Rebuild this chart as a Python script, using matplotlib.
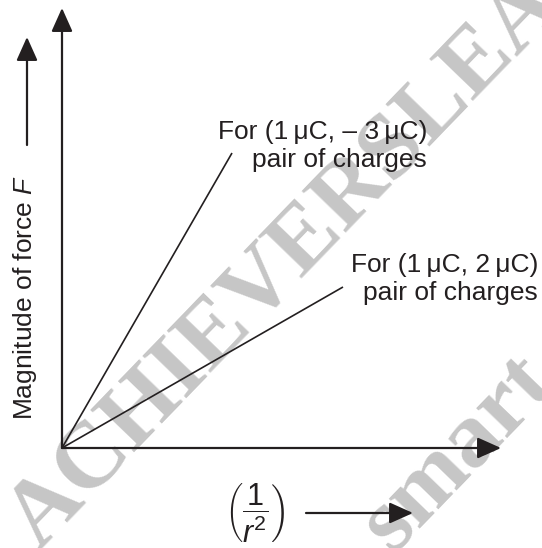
import numpy as np
import matplotlib
matplotlib.use("Agg")
from matplotlib import pyplot as plt

plt.rcParams['font.family'] = ['Liberation Sans', 'DejaVu Sans']
plt.rcParams['mathtext.fontset'] = 'custom'
plt.rcParams['mathtext.rm'] = 'Liberation Sans'
plt.rcParams['mathtext.it'] = 'Liberation Sans:italic'
plt.rcParams['mathtext.bf'] = 'Liberation Sans:bold'

# two straight lines F = k * (1/r^2) (arbitrary units)
x_end = [170, 281]
F_end = [295, 161]
pair_labels = ["For (1\u2009\u03bcC, \u2013 3\u2009\u03bcC)\npair of charges",
               "For (1\u2009\u03bcC, 2\u2009\u03bcC)\npair of charges"]
label_pos = [(365, 281), (476, 148)]   # right edge / baseline of last line

ink = '#231f20'
wm = '#c6c6c6'

fig = plt.figure(figsize=(5.42, 5.48), dpi=100)
ax = fig.add_axes([0, 0, 1, 1])
ax.set_xlim(-62, 480)
ax.set_ylim(-100, 448)
ax.axis('off')

# watermark
ax.text(-23, -103, "ACHIEVERSLEARNING", rotation=46, rotation_mode='anchor',
        ha='left', va='baseline', fontsize=68, family='Liberation Serif',
        fontweight='bold', color=wm, zorder=0)
ax.text(330, -106, "smart", rotation=46, rotation_mode='anchor',
        ha='left', va='baseline', fontsize=68, family='Liberation Serif',
        fontweight='bold', color=wm, zorder=0)

arrow = dict(arrowstyle='-|>,head_length=1.45,head_width=0.65', color=ink,
             lw=1.6, shrinkA=0, shrinkB=0, mutation_scale=10)

# axes
ax.annotate('', xy=(0, 440), xytext=(0, 0), arrowprops=arrow)
ax.annotate('', xy=(439, 0), xytext=(0, 0), arrowprops=arrow)

# force lines
for xe, fe in zip(x_end, F_end):
    ax.plot([0, xe], [0, fe], color=ink, lw=1.2, solid_capstyle='butt')

for lab, (lx, ly) in zip(pair_labels, label_pos):
    ax.text(lx, ly, lab, ha='right', va='baseline', multialignment='right',
            fontsize=19, color=ink, linespacing=1.2)

# axis labels
ax.text(-37, 151, "Magnitude of force $F$", rotation=90, ha='center',
        va='center', fontsize=19, color=ink)
ax.annotate('', xy=(-35, 411), xytext=(-35, 303), arrowprops=arrow)

ax.text(193, -65, r"$\left(\dfrac{1}{r^2}\right)$", ha='center', va='center',
        fontsize=22, color=ink)
ax.annotate('', xy=(351, -65), xytext=(244, -65), arrowprops=arrow)

fig.savefig("out.png", dpi=100)
